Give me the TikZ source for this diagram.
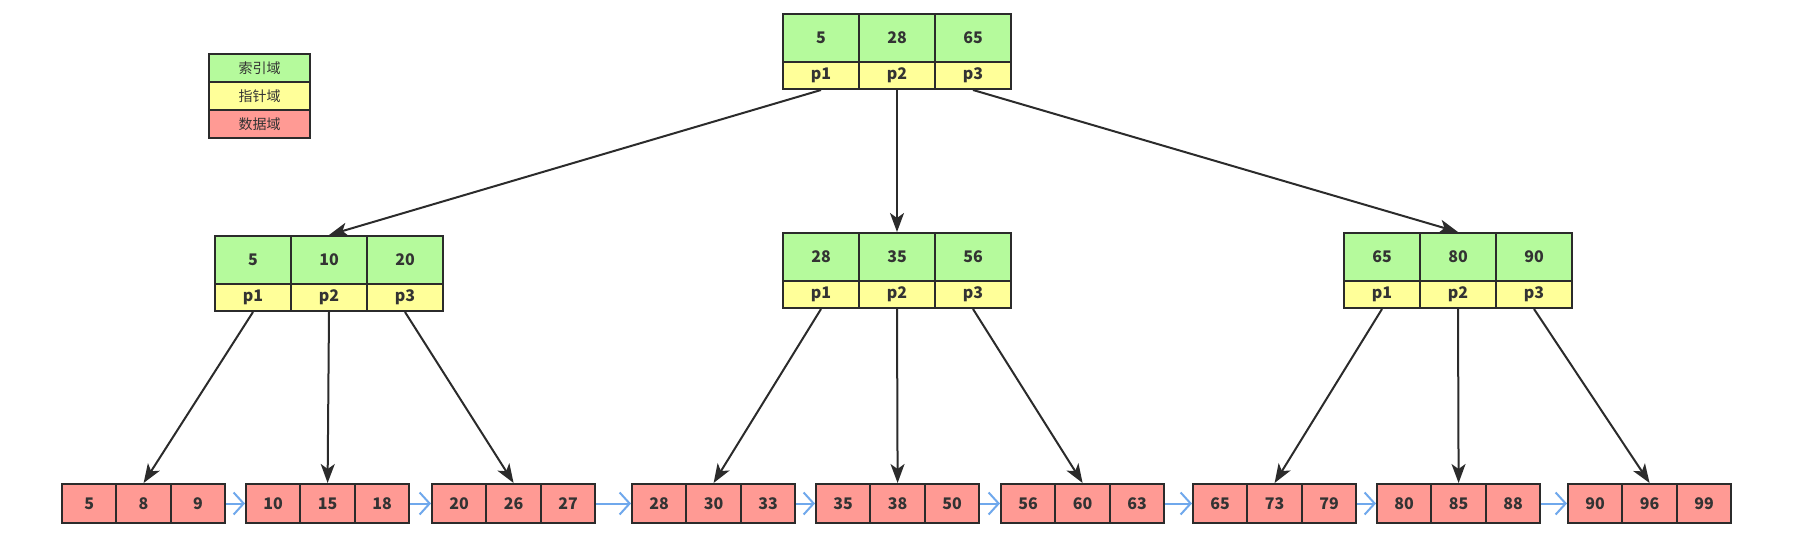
\documentclass[tikz,border=0pt]{standalone}
\usepackage{fontspec}
\setmainfont{Noto Sans CJK SC}
\usetikzlibrary{arrows.meta}
\definecolor{kgreen}{HTML}{B5FA9C}
\definecolor{pyellow}{HTML}{FFFF99}
\definecolor{dred}{HTML}{FF9A94}
\definecolor{edge}{HTML}{2B2B2B}
\definecolor{txt}{HTML}{333333}
\definecolor{lblue}{HTML}{6FA8EC}
\tikzset{
  cellbase/.style={draw=edge, line width=2pt, inner sep=0pt, text=txt, anchor=north west},
  kcell/.style={cellbase, fill=kgreen, minimum width=76pt, minimum height=48pt, font=\fontsize{16}{16}\selectfont\bfseries},
  pcell/.style={cellbase, fill=pyellow, minimum width=76pt, minimum height=27pt, font=\fontsize{16}{16}\selectfont\bfseries},
  dcell/.style={cellbase, fill=dred, minimum width=54.4pt, minimum height=39pt, font=\fontsize{16}{16}\selectfont\bfseries},
  legcell/.style={cellbase, minimum width=101pt, minimum height=28pt, font=\fontsize{14}{14}\selectfont},
  treearrow/.style={draw=edge, line width=2pt, -{Stealth[length=19pt,width=14pt,inset=5pt]}},
  leafarrow/.style={draw=lblue, line width=2pt, -{Straight Barb[length=10pt,width=22pt]}}
}
\newcommand{\bpnode}[6]{%
  \node[kcell] (#1k1) at (#2,#3) {#4};
  \node[kcell] (#1k2) at (#2+76,#3) {#5};
  \node[kcell] (#1k3) at (#2+152,#3) {#6};
  \node[pcell] (#1p1) at (#2,#3+48) {p1};
  \node[pcell] (#1p2) at (#2+76,#3+48) {p2};
  \node[pcell] (#1p3) at (#2+152,#3+48) {p3};
}
\newcommand{\leafnode}[5]{%
  \node[dcell] (#1c1) at (#2,483) {#3};
  \node[dcell] (#1c2) at (#2+54.4,483) {#4};
  \node[dcell] (#1c3) at (#2+108.8,483) {#5};
}
\begin{document}
\begin{tikzpicture}[x=1pt,y=-1pt]
\useasboundingbox (0,0) rectangle (1802,554);
% legend
\node[legcell, fill=kgreen] (lg1) at (208,53) {索引域};
\node[legcell, fill=pyellow] (lg2) at (208,81) {指针域};
\node[legcell, fill=dred] (lg3) at (208,109) {数据域};
% internal nodes
\bpnode{t}{782}{13}{5}{28}{65}
\bpnode{a}{214}{235}{5}{10}{20}
\bpnode{b}{782}{232}{28}{35}{56}
\bpnode{c}{1343}{232}{65}{80}{90}
% leaves
\leafnode{l1}{61}{5}{8}{9}
\leafnode{l2}{245}{10}{15}{18}
\leafnode{l3}{431}{20}{26}{27}
\leafnode{l4}{631}{28}{30}{33}
\leafnode{l5}{815}{35}{38}{50}
\leafnode{l6}{1000}{56}{60}{63}
\leafnode{l7}{1192}{65}{73}{79}
\leafnode{l8}{1376}{80}{85}{88}
\leafnode{l9}{1567}{90}{96}{99}
% tree arrows
\draw[treearrow] (tp1.south) -- (ak2.north);
\draw[treearrow] (tp2.south) -- (bk2.north);
\draw[treearrow] (tp3.south) -- (ck2.north);
\draw[treearrow] (ap1.south) -- (l1c2.north);
\draw[treearrow] (ap2.south) -- (l2c2.north);
\draw[treearrow] (ap3.south) -- (l3c2.north);
\draw[treearrow] (bp1.south) -- (l4c2.north);
\draw[treearrow] (bp2.south) -- (l5c2.north);
\draw[treearrow] (bp3.south) -- (l6c2.north);
\draw[treearrow] (cp1.south) -- (l7c2.north);
\draw[treearrow] (cp2.south) -- (l8c2.north);
\draw[treearrow] (cp3.south) -- (l9c2.north);
% leaf links
\draw[leafarrow] (l1c3.east) -- (l2c1.west);
\draw[leafarrow] (l2c3.east) -- (l3c1.west);
\draw[leafarrow] (l3c3.east) -- (l4c1.west);
\draw[leafarrow] (l4c3.east) -- (l5c1.west);
\draw[leafarrow] (l5c3.east) -- (l6c1.west);
\draw[leafarrow] (l6c3.east) -- (l7c1.west);
\draw[leafarrow] (l7c3.east) -- (l8c1.west);
\draw[leafarrow] (l8c3.east) -- (l9c1.west);
\end{tikzpicture}
\end{document}
